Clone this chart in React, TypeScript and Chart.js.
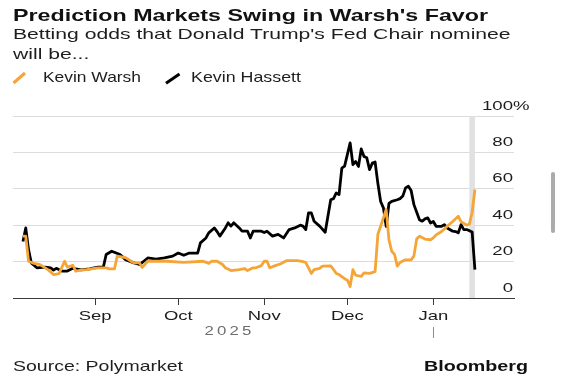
import React, { useEffect, useRef } from "react";
import { Chart, registerables } from "chart.js";

Chart.register(...registerables);

// ---------- texts ----------
const TITLE = "Prediction Markets Swing in Warsh's Favor";
const SUBTITLE_1 = "Betting odds that Donald Trump's Fed Chair nominee";
const SUBTITLE_2 = "will be...";
const SOURCE = "Source: Polymarket";
const BRAND = "Bloomberg";

// ---------- series ----------
const seriesNames = ["Kevin Warsh", "Kevin Hassett"];
const seriesColors = ["#f5a536", "#000000"];

const warshDates = [
  "2025-08-06", "2025-08-07", "2025-08-08", "2025-08-10", "2025-08-12", "2025-08-15", "2025-08-17", "2025-08-19",
  "2025-08-21", "2025-08-22", "2025-08-24", "2025-08-25", "2025-08-27", "2025-08-29", "2025-09-02", "2025-09-05",
  "2025-09-06", "2025-09-08", "2025-09-09", "2025-09-12", "2025-09-14", "2025-09-15", "2025-09-17", "2025-09-18",
  "2025-09-20", "2025-09-23", "2025-09-27", "2025-10-03", "2025-10-10", "2025-10-12", "2025-10-13", "2025-10-15",
  "2025-10-17", "2025-10-18", "2025-10-20", "2025-10-23", "2025-10-25", "2025-10-26", "2025-10-28", "2025-10-29",
  "2025-10-31", "2025-11-01", "2025-11-02", "2025-11-03", "2025-11-05", "2025-11-07", "2025-11-09", "2025-11-13",
  "2025-11-15", "2025-11-16", "2025-11-18", "2025-11-19", "2025-11-21", "2025-11-22", "2025-11-25", "2025-11-27",
  "2025-11-28", "2025-11-30", "2025-12-01", "2025-12-02", "2025-12-03", "2025-12-04", "2025-12-06", "2025-12-07",
  "2025-12-09", "2025-12-11", "2025-12-12", "2025-12-13", "2025-12-14", "2025-12-15", "2025-12-16", "2025-12-17",
  "2025-12-18", "2025-12-19", "2025-12-20", "2025-12-21", "2025-12-22", "2025-12-24", "2025-12-25", "2025-12-26",
  "2025-12-27", "2025-12-29", "2025-12-31", "2026-01-01", "2026-01-02", "2026-01-04", "2026-01-06", "2026-01-08",
  "2026-01-10", "2026-01-11", "2026-01-13", "2026-01-14", "2026-01-15", "2026-01-16",
];
const warshValues = [
  34, 34, 20.2, 19, 18.5, 15.6, 12.9, 13.4,
  20.2, 17, 18, 14.7, 15.3, 15.6, 16.6, 16.6,
  16, 16, 23, 22.2, 20.2, 19.3, 19.3, 16.8,
  20.2, 20.2, 20.2, 19.6, 20.2, 19, 20.2, 20.2,
  18.4, 16.6, 15.1, 15.6, 16.2, 15.1, 16.6, 16.6,
  17.8, 20.2, 20.2, 16.6, 17.8, 18.8, 20.5, 20.5,
  20, 19.5, 13.5, 15.6, 16.3, 17.5, 17.7, 13.5,
  12.9, 10.6, 9.8, 6.3, 15.6, 12.5, 11.9, 13.8,
  13.5, 14.5, 35, 39.4, 44, 48.6, 32, 25.7,
  24, 17.5, 19.5, 20.3, 21, 21, 23, 32.5,
  33.9, 32.4, 32, 33, 34.7, 36.5, 39.4, 42,
  44.9, 42, 40, 40.5, 47, 59.6,
];

const hassettDates = [
  "2025-08-06", "2025-08-07", "2025-08-08", "2025-08-09", "2025-08-11", "2025-08-14", "2025-08-16", "2025-08-17",
  "2025-08-18", "2025-08-20", "2025-08-22", "2025-08-24", "2025-08-27", "2025-08-30", "2025-09-02", "2025-09-04",
  "2025-09-05", "2025-09-07", "2025-09-10", "2025-09-12", "2025-09-15", "2025-09-17", "2025-09-18", "2025-09-20",
  "2025-09-23", "2025-09-26", "2025-09-29", "2025-10-01", "2025-10-03", "2025-10-05", "2025-10-08", "2025-10-09",
  "2025-10-11", "2025-10-12", "2025-10-14", "2025-10-15", "2025-10-16", "2025-10-18", "2025-10-19", "2025-10-20",
  "2025-10-21", "2025-10-23", "2025-10-24", "2025-10-26", "2025-10-27", "2025-10-28", "2025-10-31", "2025-11-01",
  "2025-11-02", "2025-11-04", "2025-11-06", "2025-11-08", "2025-11-10", "2025-11-12", "2025-11-14", "2025-11-15",
  "2025-11-16", "2025-11-17", "2025-11-18", "2025-11-19", "2025-11-21", "2025-11-23", "2025-11-25", "2025-11-26",
  "2025-11-27", "2025-11-28", "2025-11-29", "2025-11-30", "2025-12-02", "2025-12-03", "2025-12-04", "2025-12-05",
  "2025-12-06", "2025-12-07", "2025-12-08", "2025-12-09", "2025-12-10", "2025-12-11", "2025-12-12", "2025-12-13",
  "2025-12-14", "2025-12-15", "2025-12-16", "2025-12-17", "2025-12-19", "2025-12-20", "2025-12-21", "2025-12-22",
  "2025-12-23", "2025-12-24", "2025-12-25", "2025-12-27", "2025-12-28", "2025-12-29", "2025-12-30", "2025-12-31",
  "2026-01-01", "2026-01-02", "2026-01-04", "2026-01-05", "2026-01-06", "2026-01-08", "2026-01-09", "2026-01-10",
  "2026-01-11", "2026-01-12", "2026-01-13", "2026-01-14", "2026-01-15", "2026-01-16",
];
const hassettValues = [
  31, 38.5, 26.6, 19.3, 16.6, 17, 16.6, 15.3,
  16.3, 14.8, 14.8, 16.3, 15.5, 16, 17, 17,
  23.9, 25.7, 23.9, 21.1, 19.3, 18.4, 19.5, 22,
  21.4, 22, 23, 24.7, 23.5, 24.7, 24.7, 30.3,
  33, 35.8, 38.5, 36.5, 34, 38.5, 41.3, 39.5,
  41.3, 38.5, 36.7, 36.7, 33, 36.7, 36.7, 36,
  36.7, 34, 35, 33, 37.6, 38.5, 40, 39.5,
  37.6, 46.8, 46.8, 42.2, 39.5, 36.1, 54, 54.6,
  57.7, 56.8, 71.4, 72.5, 85.2, 73.3, 75, 72.3,
  81.9, 77.8, 77, 70.5, 74.1, 74.7, 63, 53,
  49.5, 39.4, 52, 53.1, 54, 54.6, 56, 60.5,
  61.4, 59, 51.3, 43, 42.2, 43.5, 44, 41.2,
  42, 39.4, 39.4, 40.3, 38.5, 36.7, 36.5, 35.8,
  40.3, 37.6, 37.6, 37, 36.3, 15.6,
];

// ---------- axes ----------
const monthTickDates = ["2025-09-01", "2025-10-01", "2025-11-01", "2025-12-01", "2026-01-01"];
const monthTickLabels = ["Sep", "Oct", "Nov", "Dec", "Jan"];
const yearLabel = "2025";
const yearBoundaryDate = "2026-01-01";
const yTickValues = [0, 20, 40, 60, 80, 100];
const highlightRange = ["2026-01-14", "2026-01-16"];

// ---------- layout constants ----------
const W = 573;
const H = 380;
const X_MIN = -29.6; // days relative to 2025-09-01
const X_MAX = 151.1;
const FONT = '"Liberation Sans", Arial, Helvetica, sans-serif';

const EPOCH = Date.UTC(2025, 8, 1);
function dayNum(s: string): number {
  const [y, m, d] = s.split("-").map(Number);
  return (Date.UTC(y, m - 1, d) - EPOCH) / 86400000;
}

let measureCtx: CanvasRenderingContext2D | null = null;
function measure(text: string, font: string): number {
  if (!measureCtx) measureCtx = document.createElement("canvas").getContext("2d");
  measureCtx!.font = font;
  return measureCtx!.measureText(text).width;
}

function SText(props: {
  text: string;
  left: number;
  baseline: number;
  size: number;
  width?: number;
  sx?: number;
  weight?: number;
  color?: string;
}) {
  const { text, left, baseline, size, width, weight = 400, color = "#1a1a1a" } = props;
  const font = `${weight} ${size}px ${FONT}`;
  const w = measure(text, font);
  const sx = props.sx ?? (width ? width / w : 1);
  const top = baseline - 0.8465 * size;
  return (
    <div
      style={{
        position: "absolute",
        left,
        top,
        fontFamily: FONT,
        fontSize: size,
        fontWeight: weight,
        lineHeight: `${size}px`,
        whiteSpace: "nowrap",
        color,
        transform: `scaleX(${sx})`,
        transformOrigin: "0 0",
      }}
    >
      {text}
    </div>
  );
}

function drawStretched(
  ctx: CanvasRenderingContext2D,
  text: string,
  x: number,
  y: number,
  sx: number,
  align: CanvasTextAlign
) {
  ctx.save();
  ctx.translate(x, y);
  ctx.scale(sx, 1);
  ctx.textAlign = align;
  ctx.textBaseline = "alphabetic";
  ctx.fillText(text, 0, 0);
  ctx.restore();
}

const bandPlugin = {
  id: "band",
  beforeDatasetsDraw(chart: any) {
    const { ctx, chartArea, scales } = chart;
    const x0 = scales.x.getPixelForValue(dayNum(highlightRange[0]));
    const x1 = scales.x.getPixelForValue(dayNum(highlightRange[1]));
    ctx.save();
    ctx.fillStyle = "#e1e1e1";
    ctx.fillRect(x0, chartArea.top, x1 - x0, chartArea.bottom - chartArea.top);
    ctx.restore();
  },
};

const labelsPlugin = {
  id: "labels",
  afterDraw(chart: any) {
    const { ctx, scales, chartArea } = chart;
    const xs = scales.x;
    const ys = scales.y;
    ctx.save();
    // y labels above grid lines, inside the plot at right
    ctx.fillStyle = "#1c1c1c";
    ctx.font = `12px ${FONT}`;
    const yRight = chartArea.right - 1;
    yTickValues.forEach((v) => {
      const y = ys.getPixelForValue(v) - 6.5;
      drawStretched(ctx, String(v), yRight, y, 1.55, "right");
      if (v === 100) drawStretched(ctx, "%", yRight, y, 1.55, "left");
    });
    // month labels
    ctx.font = `13px ${FONT}`;
    monthTickDates.forEach((d, i) => {
      const x = xs.getPixelForValue(dayNum(d));
      drawStretched(ctx, monthTickLabels[i], x, chartArea.bottom + 22, 1.42, "center");
    });
    // year label, letter spaced
    ctx.fillStyle = "#6e6e6e";
    ctx.font = `12px ${FONT}`;
    const yearCenter = 228;
    const adv = 12.5;
    yearLabel.split("").forEach((ch, i) => {
      const cx = yearCenter + (i - (yearLabel.length - 1) / 2) * adv;
      drawStretched(ctx, ch, cx, chartArea.bottom + 37, 1.4, "center");
    });
    // year boundary marker
    const bx = Math.round(xs.getPixelForValue(dayNum(yearBoundaryDate))) + 0.5;
    ctx.strokeStyle = "#8c8c8c";
    ctx.lineWidth = 1;
    ctx.beginPath();
    ctx.moveTo(bx, chartArea.bottom + 29);
    ctx.lineTo(bx, chartArea.bottom + 40);
    ctx.stroke();
    ctx.restore();
  },
};

function LegendIcon({ x1, y1, x2, y2, color }: { x1: number; y1: number; x2: number; y2: number; color: string }) {
  return (
    <svg
      width={W}
      height={H}
      style={{ position: "absolute", left: 0, top: 0, pointerEvents: "none" }}
    >
      <line x1={x1} y1={y1} x2={x2} y2={y2} stroke={color} strokeWidth={3} strokeLinecap="butt" />
    </svg>
  );
}

export default function App() {
  const canvasRef = useRef<HTMLCanvasElement | null>(null);

  useEffect(() => {
    const canvas = canvasRef.current;
    if (!canvas) return;
    const chart = new Chart(canvas, {
      type: "line",
      data: {
        datasets: [
          {
            label: seriesNames[0],
            data: warshDates.map((d, i) => ({ x: dayNum(d), y: warshValues[i] })),
            borderColor: seriesColors[0],
            backgroundColor: seriesColors[0],
            borderWidth: 2.8,
            pointRadius: 0,
            tension: 0,
            fill: false,
            borderJoinStyle: "round",
            borderCapStyle: "butt",
          },
          {
            label: seriesNames[1],
            data: hassettDates.map((d, i) => ({ x: dayNum(d), y: hassettValues[i] })),
            borderColor: seriesColors[1],
            backgroundColor: seriesColors[1],
            borderWidth: 2.8,
            pointRadius: 0,
            tension: 0,
            fill: false,
            borderJoinStyle: "round",
            borderCapStyle: "butt",
          },
        ],
      },
      options: {
        responsive: false,
        maintainAspectRatio: false,
        animation: false,
        devicePixelRatio: 1,
        events: [],
        layout: { padding: { left: 13, right: 59, top: 116, bottom: 75 } },
        plugins: {
          legend: { display: false },
          tooltip: { enabled: false },
          title: { display: false },
        },
        scales: {
          x: {
            type: "linear",
            min: X_MIN,
            max: X_MAX,
            afterBuildTicks: (s: any) => {
              s.ticks = monthTickDates.map((d) => ({ value: dayNum(d) }));
            },
            ticks: { display: false },
            grid: {
              drawOnChartArea: false,
              drawTicks: true,
              tickLength: 7,
              color: "#3a3a3a",
              lineWidth: 1,
            },
            border: { display: true, color: "#3a3a3a", width: 1 },
          },
          y: {
            type: "linear",
            position: "right",
            min: 0,
            max: 100,
            afterBuildTicks: (s: any) => {
              s.ticks = yTickValues.map((v) => ({ value: v }));
            },
            ticks: { display: false },
            grid: {
              drawTicks: false,
              lineWidth: 1,
              color: (c: any) => (c.tick && c.tick.value === 0 ? "rgba(0,0,0,0)" : "#dcdcdc"),
            },
            border: { display: false },
          },
        },
      } as any,
      plugins: [bandPlugin, labelsPlugin],
    });
    return () => chart.destroy();
  }, []);

  const sub1Font = `400 15px ${FONT}`;
  const subSx = 498 / measure(SUBTITLE_1, sub1Font);

  return (
    <div
      style={{
        position: "fixed",
        left: 0,
        top: 0,
        width: W,
        height: H,
        background: "#ffffff",
        overflow: "hidden",
        fontFamily: FONT,
      }}
    >
      <canvas
        ref={canvasRef}
        width={W}
        height={H}
        style={{ position: "absolute", left: 0, top: 0, width: W, height: H }}
      />
      <SText text={TITLE} left={13} baseline={20.7} size={16.5} weight={700} width={475} color="#111111" />
      <SText text={SUBTITLE_1} left={13} baseline={38.5} size={15} sx={subSx} color="#1e1e1e" />
      <SText text={SUBTITLE_2} left={13} baseline={59} size={15} sx={subSx} color="#1e1e1e" />

      <LegendIcon x1={13.5} y1={83} x2={25} y2={73} color={seriesColors[0]} />
      <SText text={seriesNames[0]} left={42.7} baseline={82} size={14.5} width={98} color="#1e1e1e" />
      <LegendIcon x1={166} y1={83.3} x2={179.5} y2={74} color={seriesColors[1]} />
      <SText text={seriesNames[1]} left={191.3} baseline={82} size={14.5} width={110} color="#1e1e1e" />

      <SText text={SOURCE} left={13} baseline={370.7} size={15} width={170} color="#1e1e1e" />
      <SText text={BRAND} left={424.3} baseline={371} size={14} weight={700} width={104} color="#111111" />

      <div
        style={{
          position: "absolute",
          left: 551,
          top: 172,
          width: 4,
          height: 61,
          borderRadius: 2,
          background: "#ababab",
        }}
      />
    </div>
  );
}
